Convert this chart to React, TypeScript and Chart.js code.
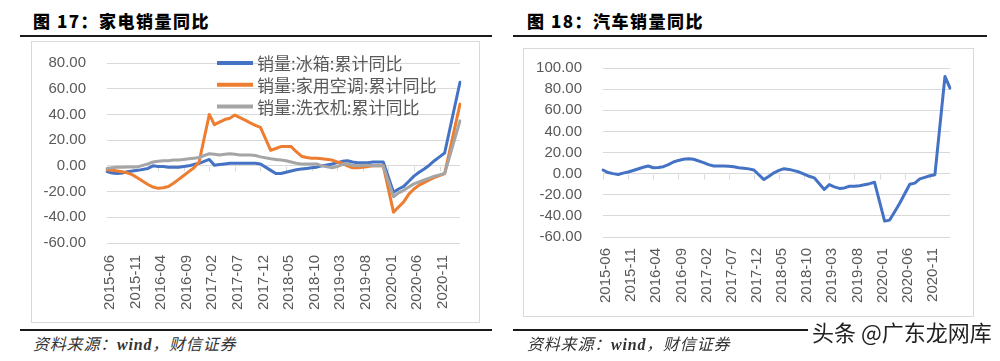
import React, { useEffect, useRef } from "react";
import { Chart, registerables } from "chart.js";

Chart.register(...registerables);

// ---------- categories ----------
const MONTHS: string[] = [
  "2015-06", "2015-07", "2015-08", "2015-09", "2015-10", "2015-11", "2015-12",
  "2016-01", "2016-02", "2016-03", "2016-04", "2016-05", "2016-06", "2016-07", "2016-08", "2016-09", "2016-10", "2016-11", "2016-12",
  "2017-01", "2017-02", "2017-03", "2017-04", "2017-05", "2017-06", "2017-07", "2017-08", "2017-09", "2017-10", "2017-11", "2017-12",
  "2018-01", "2018-02", "2018-03", "2018-04", "2018-05", "2018-06", "2018-07", "2018-08", "2018-09", "2018-10", "2018-11", "2018-12",
  "2019-01", "2019-02", "2019-03", "2019-04", "2019-05", "2019-06", "2019-07", "2019-08", "2019-09", "2019-10", "2019-11", "2019-12",
  "2020-01", "2020-02", "2020-03", "2020-04", "2020-05", "2020-06", "2020-07", "2020-08", "2020-09", "2020-10", "2020-11", "2020-12",
  "2021-01", "2021-02", "2021-03",
];
const TICK_EVERY = 5;

// ---------- series (cumulative YoY, %) ----------
const FRIDGE: (number | null)[] = [
  -4.5, -5.5, -6, -5.5, -4.5, -4, -3.5, null, -2, 0,
  -0.5, -0.5, -1, -1, -1, -0.5, 0, 1, 2, null,
  5, 0.5, 1, 1.5, 2, 2, 2, 2, 2, 2,
  1.5, null, -3.5, -6, -6, -5, -4, -3, -2.5, -2,
  -1.5, -1, 0, null, 1.5, 2.5, 3.5, 4, 3, 2.5,
  2.5, 2.5, 3, 3, 3, null, -20.5, -18, -16, -12,
  -8, -5, -2.5, 0.5, 4, 7, 10, null, null, 65,
];
const AIRCON: (number | null)[] = [
  -3, -3.5, -4, -4.5, -5.5, -7, -9.5, null, -14.5, -16.5,
  -17.5, -17, -16, -13.5, -10.5, -7.5, -4.5, -1.5, 3, null,
  40, 32, 34, 36, 37, 39.5, 37.5, 35.5, 33.5, 31.5,
  30, null, 12, 13.5, 15, 15, 15, 11, 7.5, 6.5,
  6, 6, 5.5, null, 4.5, 3, 2, 0, -1.5, -1.5,
  -1, -0.5, 0, 0, 0, null, -36, -32, -28, -22,
  -18, -15, -13, -11, -9, -7.5, -6, null, null, 48,
];
const WASHER: (number | null)[] = [
  -2, -1.5, -1, -1, -0.8, -0.8, -0.8, null, 1.5, 3,
  3.5, 4, 4, 4.5, 4.5, 5, 5.5, 6, 6.5, null,
  9.5, 9, 8.5, 9, 9.5, 9, 8.5, 8.5, 8.5, 8,
  7, null, 5.5, 5, 4.5, 4, 3, 2, 1.5, 1.5,
  1.5, 1.5, 0, null, -1.5, -0.5, 1, 1.5, 0.5, 0,
  0.5, 0.5, 0, 0, 0, null, -24, -21, -19, -16.5,
  -14, -12.5, -11, -9.5, -8, -7, -6, null, null, 35,
];
const AUTO: (number | null)[] = [
  3.4, 1, 0, -0.8, 0.5, 1.5, 3, null, 6, 7.2,
  5.6, 5.8, 6.6, 8.5, 11, 12.5, 13.6, 14, 13.6, null,
  10.4, 8.5, 7.2, 7.2, 7.2, 7, 6.5, 5.6, 5, 4.5,
  3.4, null, -5.6, -2.5, 0.8, 3, 4.7, 4, 2.8, 1.5,
  -0.5, -2.5, -4, null, -15, -10.4, -12.5, -14, -13.5, -12,
  -12, -11.5, -10.5, -9.5, -8.2, null, -45, -44, -36, -28,
  -19, -10, -9, -5, -3.5, -2, -1, null, 92, 81,
];

const LEFT_NAMES = ["销量:冰箱:累计同比", "销量:家用空调:累计同比", "销量:洗衣机:累计同比"];
const AUTO_NAME = "销量:汽车:累计同比";

const BLUE = "#4472C4";
const ORANGE = "#ED7D31";
const GRAY = "#A5A5A5";
const TEXT = "#595959";
const GRID = "#d9d9d9";
const TICK_FONT = { family: '"Liberation Sans", Arial, sans-serif', size: 15 };

// ---------- plugins ----------
const zeroTicks = {
  id: "zeroTicks",
  beforeDatasetsDraw(chart: any) {
    const xs = chart.scales.x;
    const ys = chart.scales.y;
    const ctx = chart.ctx;
    const y0 = Math.round(ys.getPixelForValue(0)) + 0.5;
    ctx.save();
    ctx.strokeStyle = GRID;
    ctx.lineWidth = 1;
    ctx.beginPath();
    for (let i = 0; i < chart.data.labels.length; i += TICK_EVERY) {
      const px = Math.round(xs.getPixelForValue(i)) + 0.5;
      ctx.moveTo(px, y0);
      ctx.lineTo(px, y0 + 5);
    }
    ctx.stroke();
    ctx.restore();
  },
};

const innerLegend = {
  id: "innerLegend",
  afterDatasetsDraw(chart: any, _args: any, opts: any) {
    if (!opts || !opts.display) return;
    const { ctx, chartArea } = chart;
    ctx.save();
    chart.data.datasets.forEach((ds: any, i: number) => {
      const y = chartArea.top + opts.offsetY + i * opts.rowGap;
      const x0 = chartArea.left + opts.offsetX;
      ctx.strokeStyle = ds.borderColor;
      ctx.lineWidth = 4;
      ctx.lineCap = "butt";
      ctx.beginPath();
      ctx.moveTo(x0, y);
      ctx.lineTo(x0 + opts.lineLen, y);
      ctx.stroke();
      ctx.fillStyle = TEXT;
      ctx.font = opts.font;
      ctx.textBaseline = "middle";
      ctx.textAlign = "left";
      ctx.fillText(ds.label, x0 + opts.lineLen + opts.gap, y + 1);
    });
    ctx.restore();
  },
};

type ChartProps = {
  left: number;
  top: number;
  width: number;
  height: number;
  datasets: any[];
  yMin: number;
  yMax: number;
  yAxisWidth: number;
  padTop: number;
  padRight: number;
  xAxisHeight: number;
  labelPad: number;
  legend?: any;
};

function LineChart(p: ChartProps) {
  const ref = useRef<HTMLCanvasElement>(null);
  useEffect(() => {
    const chart = new Chart(ref.current as HTMLCanvasElement, {
      type: "line",
      data: { labels: MONTHS, datasets: p.datasets },
      options: {
        animation: false,
        responsive: false,
        maintainAspectRatio: false,
        layout: { padding: { left: 0, top: p.padTop, right: p.padRight, bottom: 0 } },
        plugins: {
          legend: { display: false },
          tooltip: { enabled: false },
          innerLegend: p.legend || { display: false },
        } as any,
        elements: {
          point: { radius: 0, hoverRadius: 0 },
          line: { tension: 0, borderWidth: 3, borderCapStyle: "round", borderJoinStyle: "round" },
        },
        scales: {
          x: {
            type: "category",
            offset: false,
            grid: { display: false, drawTicks: false },
            border: { display: false },
            ticks: {
              autoSkip: false,
              maxRotation: 90,
              minRotation: 90,
              padding: p.labelPad,
              labelOffset: 3,
              color: TEXT,
              font: TICK_FONT,
              callback: (_v: any, i: number) => (i % TICK_EVERY === 0 ? MONTHS[i] : ""),
            },
            afterFit: (s: any) => {
              s.height = p.xAxisHeight;
              s.paddingLeft = 0;
              s.paddingRight = 0;
            },
          },
          y: {
            min: p.yMin,
            max: p.yMax,
            grid: { color: GRID, lineWidth: 1, drawTicks: false },
            border: { display: false },
            ticks: {
              stepSize: 20,
              autoSkip: false,
              padding: 21,
              color: TEXT,
              font: TICK_FONT,
              callback: (v: any) => Number(v).toFixed(2),
            },
            afterFit: (s: any) => {
              s.width = p.yAxisWidth;
              s.paddingTop = 0;
              s.paddingBottom = 0;
            },
          },
        },
      } as any,
      plugins: [zeroTicks, innerLegend],
    });
    return () => chart.destroy();
  }, []);
  return (
    <canvas
      ref={ref}
      width={p.width}
      height={p.height}
      style={{ position: "absolute", left: p.left, top: p.top, width: p.width, height: p.height }}
    />
  );
}

const titleStyle = (left: number): React.CSSProperties => ({
  position: "absolute",
  left,
  top: 11,
  fontSize: 17,
  lineHeight: "20px",
  fontWeight: 900,
  letterSpacing: 1.5,
  fontFamily: '"Noto Sans CJK SC", sans-serif',
  color: "#000",
  whiteSpace: "nowrap",
});

const ruleStyle = (left: number, top: number, width: number): React.CSSProperties => ({
  position: "absolute",
  left,
  top,
  width,
  height: 2,
  background: "#1a1a1a",
});

const boxStyle = (left: number, top: number, width: number, height: number): React.CSSProperties => ({
  position: "absolute",
  left,
  top,
  width,
  height,
  boxSizing: "border-box",
  border: `1px solid ${GRID}`,
});

const sourceStyle = (left: number): React.CSSProperties => ({
  position: "absolute",
  left,
  top: 335,
  fontSize: 16,
  lineHeight: "20px",
  letterSpacing: 0.8,
  fontStyle: "italic",
  fontFamily: '"Liberation Serif", "Noto Sans CJK SC", serif',
  color: "#333",
  whiteSpace: "nowrap",
});

export default function App() {
  useEffect(() => {
    document.body.style.margin = "0";
  }, []);

  const leftSets = [
    { label: LEFT_NAMES[0], data: FRIDGE, borderColor: BLUE, backgroundColor: BLUE, spanGaps: true, order: 2 },
    { label: LEFT_NAMES[1], data: AIRCON, borderColor: ORANGE, backgroundColor: ORANGE, spanGaps: true, order: 1 },
    { label: LEFT_NAMES[2], data: WASHER, borderColor: GRAY, backgroundColor: GRAY, spanGaps: true, order: 0 },
  ];
  const rightSets = [
    { label: AUTO_NAME, data: AUTO, borderColor: BLUE, backgroundColor: BLUE, spanGaps: true },
  ];

  return (
    <div
      style={{
        position: "fixed",
        left: 0,
        top: 0,
        width: 1000,
        height: 361,
        background: "#fff",
        overflow: "hidden",
      }}
    >
      {/* left panel */}
      <div style={titleStyle(33)}>图 17：家电销量同比</div>
      <div style={ruleStyle(20, 35, 472)} />
      <div style={boxStyle(31, 41, 449, 282)} />
      <LineChart
        left={32}
        top={42}
        width={447}
        height={280}
        datasets={leftSets}
        yMin={-60}
        yMax={80}
        yAxisWidth={75}
        padTop={21}
        padRight={19}
        xAxisHeight={79}
        labelPad={12}
        legend={{
          display: true,
          offsetX: 110,
          offsetY: 0,
          rowGap: 21.7,
          lineLen: 36,
          gap: 4,
          font: '17px "Noto Sans CJK SC", sans-serif',
        }}
      />
      <div style={ruleStyle(20, 329, 472)} />
      <div style={sourceStyle(33)}>
        资料来源：<b>wind</b>，财信证券
      </div>

      {/* right panel */}
      <div style={titleStyle(527)}>图 18：汽车销量同比</div>
      <div style={ruleStyle(513, 35, 474)} />
      <div style={boxStyle(523, 48, 451, 269)} />
      <LineChart
        left={524}
        top={49}
        width={448}
        height={267}
        datasets={rightSets}
        yMin={-60}
        yMax={100}
        yAxisWidth={79}
        padTop={19}
        padRight={22}
        xAxisHeight={79}
        labelPad={11}
      />
      <div style={ruleStyle(513, 329, 474)} />
      <div style={sourceStyle(527)}>
        资料来源：<b>wind</b>，财信证券
      </div>
      <div
        style={{
          position: "absolute",
          left: 808,
          top: 317,
          padding: "0 4px",
          fontSize: 22,
          lineHeight: "28px",
          fontFamily: '"Noto Sans CJK SC", sans-serif',
          color: "#222",
          background: "#fff",
          whiteSpace: "nowrap",
        }}
      >
        头条 @广东龙网库
      </div>
    </div>
  );
}
